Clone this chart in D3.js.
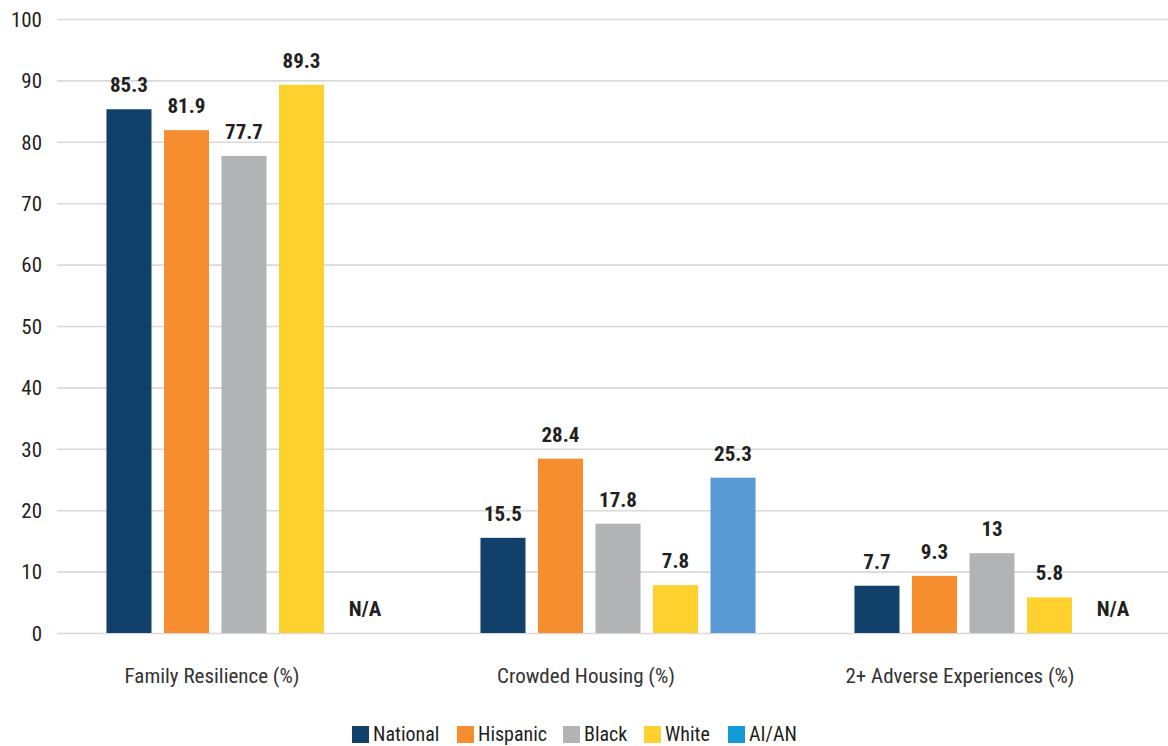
<!DOCTYPE html>
<html>
<head>
<meta charset="utf-8">
<script src="https://cdn.jsdelivr.net/npm/d3@7"></script>
<style>
  html, body { margin: 0; padding: 0; background: #fff; }
  svg { display: block; }
  text { font-family: "Liberation Sans Narrow", "Roboto Condensed", "Liberation Sans", sans-serif; }
</style>
</head>
<body>
<svg id="chart" width="1168" height="746"></svg>
<script>
// Indicator categories along the x axis
const categories = ["Family Resilience (%)", "Crowded Housing (%)", "2+ Adverse Experiences (%)"];
// Population groups (series)
const seriesNames = ["National", "Hispanic", "Black", "White", "AI/AN"];
// Values per series, in category order (null = not available)
const national = [85.3, 15.5, 7.7];
const hispanic = [81.9, 28.4, 9.3];
const black    = [77.7, 17.8, 13];
const white    = [89.3, 7.8, 5.8];
const aian     = [null, 25.3, null];
const yTicks = [0, 10, 20, 30, 40, 50, 60, 70, 80, 90, 100];

const seriesValues = [national, hispanic, black, white, aian];
const barColors    = ["#11416a", "#f68d2e", "#b2b3b5", "#fed12f", "#5b9bd5"];
const legendColors = ["#11416a", "#f68d2e", "#b2b3b5", "#fed12f", "#1399d6"];

const svg = d3.select("#chart");
const plotLeft = 57, plotTop = 19, plotBottom = 633;

const y = d3.scaleLinear().domain([0, 100]).range([plotBottom, plotTop]);
const x0 = d3.scaleBand().domain(categories).range([plotLeft, plotLeft + 3 * 374]);
const x1 = d3.scaleBand().domain(seriesNames).range([0, x0.bandwidth()])
  .paddingInner(0.217).paddingOuter(0.86);

// Gridlines and tick labels
const yAxis = d3.axisLeft(y).tickValues(yTicks).tickSize(0).tickPadding(15);
const gy = svg.append("g").attr("transform", `translate(${plotLeft},0)`).call(yAxis);
gy.select(".domain").remove();
gy.selectAll(".tick line").remove();
gy.selectAll(".tick text")
  .attr("fill", "#231f20").style("font-size", "21px")
  .attr("dy", "0.35em");
gy.selectAll(".tick").append("line")
  .attr("x1", 0).attr("x2", 1168 - plotLeft)
  .attr("stroke", "#d9d9d9").attr("stroke-width", 1.6);

// Bars
const data = [];
categories.forEach((c, ci) => {
  seriesNames.forEach((s, si) => {
    data.push({ cat: c, series: s, si, value: seriesValues[si][ci] });
  });
});

const plot = svg.append("g");
plot.selectAll("rect")
  .data(data.filter(d => d.value !== null))
  .join("rect")
  .attr("x", d => x0(d.cat) + x1(d.series))
  .attr("y", d => y(d.value))
  .attr("width", x1.bandwidth())
  .attr("height", d => y(0) - y(d.value))
  .attr("fill", d => barColors[d.si]);

// Value labels (N/A where missing)
plot.selectAll("text.val")
  .data(data)
  .join("text")
  .attr("class", "val")
  .attr("x", d => x0(d.cat) + x1(d.series) + x1.bandwidth() / 2 + (d.value === null ? 6 : 0))
  .attr("y", d => d.value === null ? y(0) - 17 : y(d.value) - 17)
  .attr("text-anchor", "middle")
  .attr("fill", "#231f20")
  .style("font-size", "21px")
  .style("font-weight", "bold")
  .text(d => d.value === null ? "N/A" : d.value);

// Category labels
svg.append("g").selectAll("text")
  .data(categories)
  .join("text")
  .attr("x", d => x0(d) + x0.bandwidth() / 2 - 32)
  .attr("y", 683)
  .attr("text-anchor", "middle")
  .attr("fill", "#333")
  .style("font-size", "21px")
  .text(d => d);

// Legend
const legendX = [352, 457, 563, 644, 728];
const lg = svg.append("g").selectAll("g")
  .data(seriesNames)
  .join("g")
  .attr("transform", (d, i) => `translate(${legendX[i]},726)`);
lg.append("rect").attr("width", 17).attr("height", 17)
  .attr("fill", (d, i) => legendColors[i]);
lg.append("text").attr("x", 21).attr("y", 15)
  .attr("fill", "#231f20").style("font-size", "20px")
  .text(d => d);
</script>
</body>
</html>
